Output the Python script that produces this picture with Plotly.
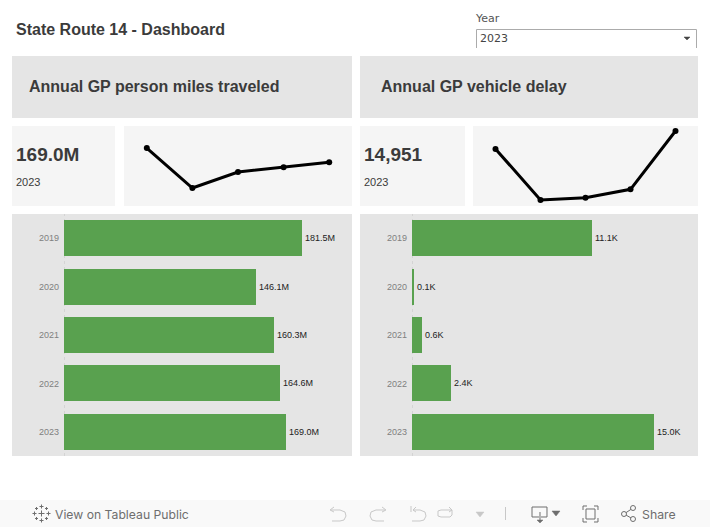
import plotly.graph_objects as go

W, H = 710, 527
years = ["2019", "2020", "2021", "2022", "2023"]
pmt_values = [181.5, 146.1, 160.3, 164.6, 169.0]
pmt_labels = ["181.5M", "146.1M", "160.3M", "164.6M", "169.0M"]
delay_values = [11.1, 0.1, 0.6, 2.4, 14.951]
delay_labels = ["11.1K", "0.1K", "0.6K", "2.4K", "15.0K"]

GREEN = "#59a14f"
PANEL = "#e5e5e5"
LIGHT = "#f5f5f5"
TEXT = "#3b3b3b"
FONT = "Liberation Sans"


def fx(px):
    return px / W


def fy(py):
    return 1 - py / H


fig = go.Figure()
shapes = []
ann = []


def rect(x0, y0, x1, y1, color):
    shapes.append(dict(type="rect", xref="paper", yref="paper", x0=fx(x0), x1=fx(x1),
                       y0=fy(y1), y1=fy(y0), fillcolor=color, line_width=0, layer="below"))


def line(x0, y0, x1, y1, color="#b4b4b4", width=1):
    shapes.append(dict(type="line", xref="paper", yref="paper", x0=fx(x0), x1=fx(x1),
                       y0=fy(y0), y1=fy(y1), line=dict(color=color, width=width), layer="above"))


def icon(points, color="#c8c8c8", width=1.2, closed=False, fill=None):
    d = "M" + " L".join(f"{fx(x):.5f},{fy(y):.5f}" for x, y in points) + (" Z" if closed else "")
    s = dict(type="path", xref="paper", yref="paper", path=d, line=dict(color=color, width=width))
    if fill:
        s["fillcolor"] = fill
    shapes.append(s)


def text(x, y, s, size, color=TEXT, bold=False, family=FONT, anchor="left"):
    ann.append(dict(xref="paper", yref="paper", x=fx(x), y=fy(y), text=f"<b>{s}</b>" if bold else s,
                    showarrow=False, xanchor=anchor, yanchor="middle", xshift=0, yshift=0,
                    font=dict(size=size, color=color, family=family), borderpad=0, borderwidth=0))


# panels
rect(12, 56, 352, 118, PANEL)
rect(360, 56, 698, 118, PANEL)
rect(12, 126, 115, 206, LIGHT)
rect(124, 126, 352, 206, LIGHT)
rect(360, 126, 465, 206, LIGHT)
rect(473, 126, 698, 206, LIGHT)
rect(12, 214, 352, 456, PANEL)
rect(360, 214, 698, 456, PANEL)
rect(0, 500, 710, 527, "#f9f9f9")

# titles and KPI text
text(16, 29.5, "State Route 14 - Dashboard", 16, bold=True)
text(29, 86.5, "Annual GP person miles traveled", 16, bold=True)
text(381.5, 86.5, "Annual GP vehicle delay", 16, bold=True)
text(16, 154.5, pmt_labels[-1], 19, bold=True)
text(16, 182, years[-1], 11)
text(364, 154.5, f"{round(delay_values[-1] * 1000):,}", 19, bold=True)
text(364, 182, years[-1], 11)

# year filter
text(475, 18, "Year", 11, color="#555555", family="DejaVu Sans")
line(476.5, 29.5, 696.5, 29.5, "#ababab")
line(476.5, 29.5, 476.5, 48, "#ababab")
line(696.5, 29.5, 696.5, 48, "#ababab")
text(480, 38.5, years[-1], 11, color="#444444", family="DejaVu Sans")
icon([(684, 37), (690, 37), (687, 40)], "#444444", 0.5, True, "#444444")

# toolbar
TB = "#6e6e6e"
text(55, 514, "View on Tableau Public", 12.2, color=TB, family="Inter")
text(642, 514, "Share", 12.3, color=TB, family="Inter")
# tableau mark
for cx, cy, r in [(41.5, 513.5, 3), (41.5, 506.5, 2), (41.5, 520.5, 2), (34.5, 513.5, 2), (48.5, 513.5, 2),
                  (36.5, 508.5, 1.5), (46.5, 508.5, 1.5), (36.5, 518.5, 1.5), (46.5, 518.5, 1.5)]:
    icon([(cx - r, cy), (cx + r, cy)], TB, 1)
    icon([(cx, cy - r), (cx, cy + r)], TB, 1)
# undo, redo, revert, refresh
icon([(331, 510), (340, 510), (345, 512), (346, 516), (344, 520), (340, 521), (332, 521)], width=1)
icon([(334, 507), (330, 510), (334, 512)], width=1)
icon([(385, 510), (376, 510), (371, 512), (370, 516), (372, 520), (376, 521), (384, 521)], width=1)
icon([(382, 507), (386, 510), (382, 512)], width=1)
icon([(411, 506), (411, 512)], width=1)
icon([(413, 510), (420, 510), (425, 512), (426, 516), (424, 520), (420, 521), (412, 521)], width=1)
icon([(416, 507), (413, 510), (416, 512)], width=1)
icon([(452, 510), (441, 510), (447 - 9, 511), (446 - 8, 516), (441, 517), (450, 517), (452, 515), (452, 510)], width=1)
icon([(449, 507), (452, 510), (449, 512)], width=1)
icon([(476, 512), (484, 512), (480, 517)], "#c8c8c8", 0.5, True, "#c8c8c8")
line(505.5, 507, 505.5, 520, "#c8c8c8")
# download
icon([(539, 517), (532, 517), (532, 507), (547, 507), (547, 517), (541, 517)], TB, 1)
icon([(540, 512), (540, 522)], TB, 1)
icon([(537, 520), (543, 520), (540, 523)], TB, 0.5, True, TB)
icon([(552, 511), (560, 511), (556, 516)], TB, 0.5, True, TB)
# fullscreen
for sx, sy in [(583, 506), (598, 506), (583, 522), (598, 522)]:
    dx = 4 if sx == 583 else -4
    dy = 4 if sy == 506 else -4
    icon([(sx + dx, sy), (sx, sy), (sx, sy + dy)], TB, 1)
icon([(586, 509), (595, 509), (595, 519), (586, 519)], TB, 1, True)
# share
icon([(633, 508), (624, 514), (633, 519)], TB, 1)
for cx, cy in [(633, 508), (624, 514), (633, 519)]:
    r = 2.5
    shapes.append(dict(type="circle", xref="paper", yref="paper", x0=fx(cx - r), x1=fx(cx + r),
                       y0=fy(cy + r), y1=fy(cy - r), fillcolor="#f9f9f9", line=dict(color=TB, width=1)))

# sparklines
spark_kw = dict(mode="lines+markers", line=dict(color="black", width=3), marker=dict(color="black", size=6),
                cliponaxis=False, hoverinfo="skip", showlegend=False)
fig.add_trace(go.Scatter(x=years, y=pmt_values, xaxis="x", yaxis="y", **spark_kw))
fig.add_trace(go.Scatter(x=years, y=delay_values, xaxis="x2", yaxis="y2", **spark_kw))

# bars
bar_kw = dict(orientation="h", marker=dict(color=GREEN, line_width=0), textposition="outside",
              textfont=dict(size=9, color="#222222", family=FONT), cliponaxis=False,
              hoverinfo="skip", showlegend=False, width=0.745)
fig.add_trace(go.Bar(y=years, x=pmt_values, text=pmt_labels, xaxis="x3", yaxis="y3", **bar_kw))
fig.add_trace(go.Bar(y=years, x=delay_values, text=delay_labels, xaxis="x4", yaxis="y4", **bar_kw))

# dotted baseline for each bar chart
for ax in ("x3", "x4"):
    shapes.append(dict(type="line", xref=ax, x0=0, x1=0, yref="paper", y0=fy(456), y1=fy(214),
                       line=dict(color="#c4c4c4", width=1, dash="dot"), layer="below"))

hidden = dict(visible=False, fixedrange=True)
yt = dict(type="category", categoryorder="array", categoryarray=years[::-1], showgrid=False, zeroline=False,
          showline=False, ticks="", tickfont=dict(size=9, color="#808080", family=FONT), fixedrange=True,
          ticklabelstandoff=4, automargin=False)

fig.update_layout(
    width=W, height=H, autosize=False,
    margin=dict(l=0, r=0, t=0, b=0, pad=0),
    paper_bgcolor="white", plot_bgcolor="rgba(0,0,0,0)",
    shapes=shapes, annotations=ann, bargap=0,
    xaxis=dict(domain=[fx(124), fx(352)], type="category", range=[-0.5, 4.5], anchor="y", **hidden),
    yaxis=dict(domain=[fy(206), fy(126)], range=[130.2, 201], anchor="x", **hidden),
    xaxis2=dict(domain=[fx(473), fx(698)], type="category", range=[-0.5, 4.5], anchor="y2", **hidden),
    yaxis2=dict(domain=[fy(206), fy(126)], range=[-1.19, 16.03], anchor="x2", **hidden),
    xaxis3=dict(domain=[fx(64), fx(352)], range=[0, 219.7], anchor="y3", **hidden),
    yaxis3=dict(domain=[fy(456), fy(214)], anchor="x3", **yt),
    xaxis4=dict(domain=[fx(412), fx(698)], range=[0, 17.67], anchor="y4", **hidden),
    yaxis4=dict(domain=[fy(456), fy(214)], anchor="x4", **yt),
)
fig.write_html("out.html", config=dict(displayModeBar=False),
               post_script="document.body.style.margin='0';document.body.style.overflow='hidden';")
